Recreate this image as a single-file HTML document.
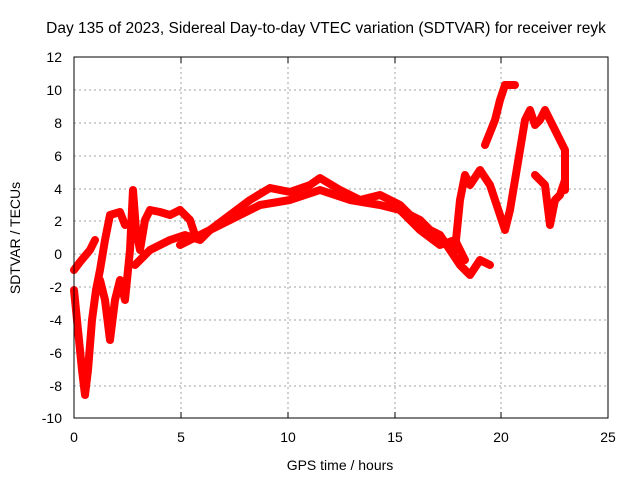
<!DOCTYPE html>
<html><head><meta charset="utf-8"><style>body{margin:0;background:#fff}svg{display:block}text{font-family:"Liberation Sans",sans-serif;font-size:14px;fill:#000}</style></head><body>
<svg width="640" height="480" xmlns="http://www.w3.org/2000/svg">
<g stroke="#a0a0a0" stroke-dasharray="2,3" stroke-width="1">
<line x1="181" y1="57" x2="181" y2="418"/><line x1="288" y1="57" x2="288" y2="418"/><line x1="395" y1="57" x2="395" y2="418"/><line x1="501" y1="57" x2="501" y2="418"/>
<line x1="74" y1="90" x2="608" y2="90"/><line x1="74" y1="123" x2="608" y2="123"/><line x1="74" y1="156" x2="608" y2="156"/><line x1="74" y1="189" x2="608" y2="189"/><line x1="74" y1="221" x2="608" y2="221"/><line x1="74" y1="254" x2="608" y2="254"/><line x1="74" y1="287" x2="608" y2="287"/><line x1="74" y1="320" x2="608" y2="320"/><line x1="74" y1="353" x2="608" y2="353"/><line x1="74" y1="386" x2="608" y2="386"/>
</g>
<g fill="none" stroke="#f00" stroke-width="8" stroke-linejoin="round" stroke-linecap="round">
<polyline points="74,270 80,262 90,250 95,240"/>
<polyline points="74,290 78,330 82,370 85,395 88,370 92,320 96,290 100,270 105,240 110,215 120,212 125,225"/>
<polyline points="100,280 105,300 110,340 115,300 120,280 125,300 130,250 133,190 136,230 140,250 145,220 150,210 160,212 170,215 180,210 190,220 195,235"/>
<polyline points="135,265 150,250 170,240 185,235 200,240 210,230 230,215 250,200 270,188 290,192 310,185 320,178 340,190 360,200 380,195 400,205 410,215 420,220 430,230 440,235 450,250 460,265 470,275 480,260 490,265"/>
<polyline points="180,245 200,235 230,220 260,205 290,200 320,190 350,200 380,205 400,210 420,230 440,245 455,240 465,260"/>
<polyline points="455,250 460,200 465,175 470,185 480,170 490,185 495,200 500,215 505,230 510,210 515,180 520,150 525,120 530,110 535,125 540,120 545,110 550,120 555,130 560,140 565,150 565,190"/>
<polyline points="485,145 495,120 500,100 505,85 515,85"/>
<polyline points="535,175 545,185 550,225 555,200 560,195 565,180"/>
</g>
<rect x="74" y="57" width="534" height="361" fill="none" stroke="#000"/>
<g stroke="#000">
<line x1="181" y1="418" x2="181" y2="412"/><line x1="288" y1="418" x2="288" y2="412"/><line x1="395" y1="418" x2="395" y2="412"/><line x1="501" y1="418" x2="501" y2="412"/>
<line x1="181" y1="57" x2="181" y2="63"/><line x1="288" y1="57" x2="288" y2="63"/><line x1="395" y1="57" x2="395" y2="63"/><line x1="501" y1="57" x2="501" y2="63"/>
</g>
<g text-anchor="end">
<text x="62" y="62">12</text><text x="62" y="95">10</text><text x="62" y="128">8</text><text x="62" y="161">6</text><text x="62" y="194">4</text><text x="62" y="226">2</text><text x="62" y="259">0</text><text x="62" y="292">-2</text><text x="62" y="325">-4</text><text x="62" y="358">-6</text><text x="62" y="391">-8</text><text x="62" y="423">-10</text>
</g>
<g text-anchor="middle">
<text x="74" y="442">0</text><text x="181" y="442">5</text><text x="288" y="442">10</text><text x="395" y="442">15</text><text x="501" y="442">20</text><text x="608" y="442">25</text>
<text x="340" y="470">GPS time / hours</text>
<text x="326" y="33" style="font-size:15.5px">Day 135 of 2023, Sidereal Day-to-day VTEC variation (SDTVAR) for receiver reyk</text>
<text transform="translate(20,238) rotate(-90)">SDTVAR / TECUs</text>
</g>
</svg></body></html>
